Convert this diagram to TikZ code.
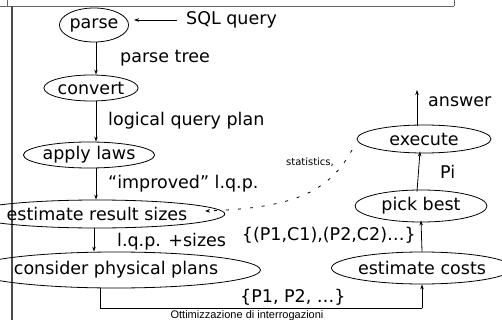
\documentclass[tikz,border=0pt]{standalone}
\usepackage{fontspec}
\setmainfont{DejaVu Sans}
\newfontfamily\footfont{Liberation Sans}
\usetikzlibrary{shapes.geometric,arrows.meta}
\begin{document}
\begin{tikzpicture}[x=1pt,y=-1pt,
  every node/.style={font=\fontsize{17.5}{19}\selectfont, inner sep=0pt},
  ell/.style={draw, ellipse, line width=0.8pt},
  lbl/.style={anchor=west},
  arr/.style={draw, line width=0.8pt, -{Stealth[length=5pt,width=3.5pt]}},
  frame/.style={draw=black!60, line width=0.8pt}]
\path[use as bounding box] (0,0) rectangle (502,320);
% frame
\draw[frame] (0,6) -- (454,6);
\draw[frame] (7,0) -- (7,6);
\draw[frame] (454,0) -- (454,6);
\draw[draw=black!70, line width=1.5pt] (12,6) -- (12,320);
% nodes
\node[ell, minimum width=68, minimum height=34] (parse) at (94,25) {parse};
\node[ell, minimum width=92, minimum height=26] (convert) at (91,88) {convert};
\node[ell, minimum width=108, minimum height=26] (apply) at (89,155) {apply laws};
\node[ell, minimum width=188, minimum height=28] (estsize) at (97,214) {estimate result sizes};
\node[ell, minimum width=232, minimum height=36] (consider) at (116,270) {consider physical plans};
\node[ell, minimum width=134, minimum height=28] (execute) at (424,139) {execute};
\node[ell, minimum width=132, minimum height=32] (pick) at (421,206) {pick best};
\node[ell, minimum width=140, minimum height=32] (estcost) at (422,268) {estimate costs};
% labels
\node[lbl] (sql) at (186,20) {SQL query};
\node[lbl] (ptree) at (120,58) {parse tree};
\node[lbl] (lqp) at (108,121) {logical query plan};
\node[lbl] (impr) at (108,184) {“improved” l.q.p.};
\node[lbl] (sizes) at (117,242) {l.q.p. +sizes};
\node[lbl] (plist) at (240,297) {\{P1, P2, …\}};
\node[lbl] (answer) at (428,102) {answer};
\node[lbl] (pi) at (440,172) {Pi};
\node[anchor=east] (pc) at (416,235) {\{(P1,C1),(P2,C2)…\}};
\node[font=\fontsize{10}{11}\selectfont] (stat) at (310,162) {statistics,};
\node[font=\footfont\fontsize{11}{12}\selectfont, anchor=base] (foot) at (247,318.5) {Ottimizzazione di interrogazioni};
% coordinates
\coordinate (ans) at (417,90);
\coordinate (c1) at (100,308);
\coordinate (c2) at (422,308);
\coordinate (ds) at (352,150);
\coordinate (de) at (205,211);
% connectors
\draw[arr] ([xshift=-9pt]sql.west) -- ([xshift=5pt]parse.east |- sql.west);
\draw[arr] ([xshift=2pt]parse.south) -- ([xshift=2pt]parse.south |- convert.north);
\draw[arr] ([xshift=5pt]convert.south) -- ([xshift=5pt]convert.south |- apply.north);
\draw[arr] ([xshift=7pt]apply.south) -- ([xshift=7pt]apply.south |- estsize.north);
\draw[arr] ([xshift=-3pt]estsize.south) -- ([xshift=-3pt]estsize.south |- consider.north);
\draw[line width=0.8pt] (consider.south -| c1) -- (c1) -- (c2);
\draw[arr] (c2) -- (estcost.south);
\draw[arr] (estcost.north) -- ([yshift=2pt]pick.south);
\draw[arr] ([xshift=-4pt,yshift=-2pt]pick.north) -- ([xshift=-4pt,yshift=2pt]execute.south);
\draw[arr] ([xshift=-7pt,yshift=-1pt]execute.north) -- (ans);
\draw[arr, dashed, dash pattern=on 3pt off 9pt] (ds) .. controls (328,194) and (290,208) .. (de);
\end{tikzpicture}
\end{document}
